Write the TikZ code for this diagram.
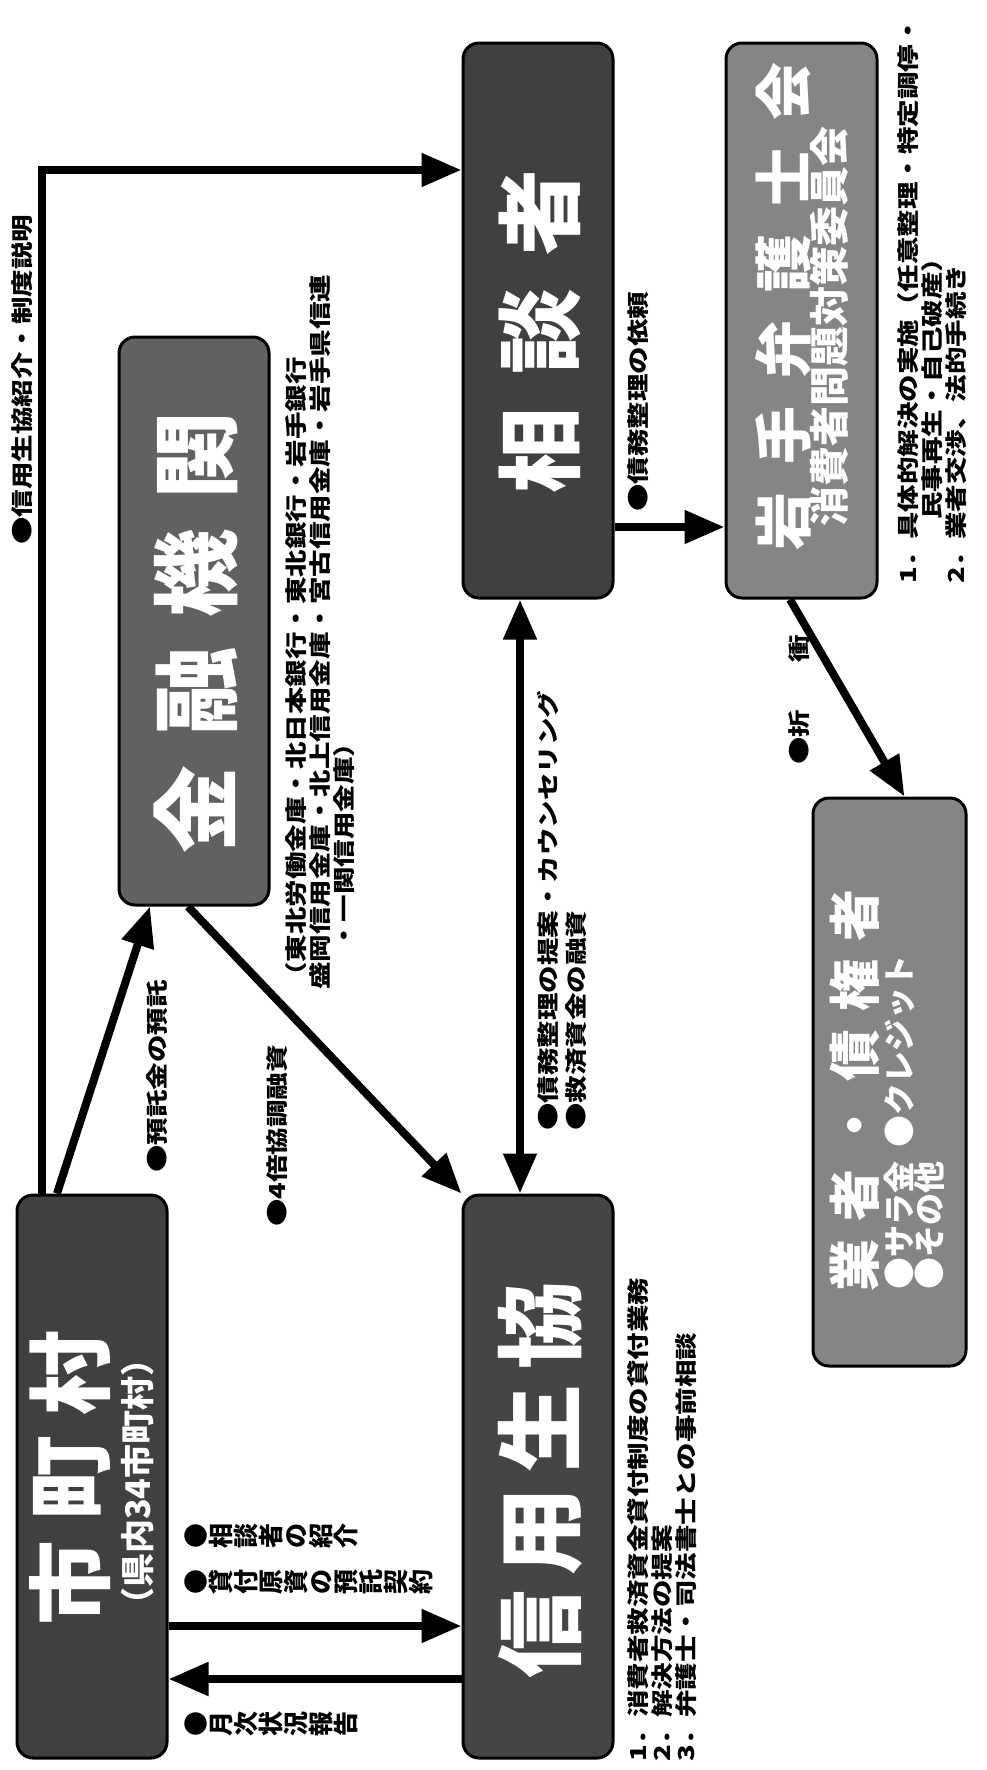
\documentclass[tikz,border=0pt]{standalone}
\usepackage{fontspec}
\usepackage{graphicx}
\setmainfont{Noto Sans CJK JP}
\usetikzlibrary{arrows.meta}
\newcommand{\lblfont}{\fontsize{27.5}{27.5}\selectfont\bfseries}
\newcommand{\sq}[1]{\scalebox{1}[0.8]{#1}}
\tikzset{
  box/.style={draw=black, line width=3pt, rounded corners=16pt, inner sep=0pt},
  ttl/.style={rotate=90, inner sep=0pt, text=white, font=\fontsize{#1}{#1}\selectfont\bfseries},
  lbl/.style={rotate=90, anchor=west, inner sep=0pt, font=\lblfont},
  rowlbl/.style={rotate=90, anchor=north, inner sep=0pt, align=center, font=\fontsize{25}{25}\selectfont\bfseries},
  arr/.style={line width=8pt, -{Triangle[length=40pt,width=32pt]}},
  arrb/.style={line width=8pt, {Triangle[length=40pt,width=32pt]}-{Triangle[length=40pt,width=32pt]}},
}
\begin{document}
\begin{tikzpicture}[x=1pt, y=-1pt]
\fill[white] (0,0) rectangle (987,1770);
\useasboundingbox (0,0) rectangle (987,1770);

% boxes
\node[box, fill=black!75, minimum width=150pt, minimum height=563pt] (sc) at (92,1476.5) {};
\node[box, fill=black!73, minimum width=150pt, minimum height=563pt] (sy) at (538,1476.5) {};
\node[box, fill=black!62, minimum width=150pt, minimum height=568pt] (kk) at (194,621) {};
\node[box, fill=black!75, minimum width=150pt, minimum height=555pt] (sd) at (538,320.5) {};
\node[box, fill=black!48, minimum width=151pt, minimum height=555pt] (bg) at (801.5,320.5) {};
\node[box, fill=black!48, minimum width=153pt, minimum height=568pt] (gs) at (889.5,1082) {};

% box titles
\node[ttl=85] (tsc) at (70,1478) {市\hspace{20pt}町\hspace{20pt}村};
\node[ttl=34] (tsc2) at (138,1482) {（県内34市町村）};
\node[ttl=88] (tsy) at (540,1480) {信\hspace{15pt}用\hspace{15pt}生\hspace{15pt}協};
\node[ttl=88] (tkk) at (196,632) {金\hspace{30pt}融\hspace{30pt}機\hspace{30pt}関};
\node[ttl=86] (tsd) at (540,331) {相\hspace{33pt}談\hspace{33pt}者};
\node[ttl=58] (tbg) at (783,306) {岩\hspace{28pt}手\hspace{28pt}弁\hspace{28pt}護\hspace{28pt}士\hspace{28pt}会};
\node[ttl=40] (tbg2) at (829,326) {消費者問題対策委員会};
\node[ttl=52] (tgs) at (855,1090) {業\hspace{18pt}者\hspace{18pt}・\hspace{18pt}債\hspace{18pt}権\hspace{18pt}者};
\node[rotate=90, anchor=west, inner sep=0pt, text=white, font=\fontsize{32}{32}\selectfont\bfseries] (tgs2) at (899,1290) {●サラ金\hspace{14pt}●クレジット};
\node[rotate=90, anchor=west, inner sep=0pt, text=white, font=\fontsize{32}{32}\selectfont\bfseries] (tgs3) at (929,1290) {●その他};

% connectors
\coordinate (hy) at (0,170);
\coordinate (hy2) at (0,527);
\coordinate (a1) at (0,1626);
\coordinate (a2) at (0,1679);
\draw[arr] ([xshift=-50pt]sc.north) |- (sd.west |- hy);
\draw[arr] ([xshift=-35pt]sc.north) -- ([xshift=-44pt]kk.south);
\draw[arr] ([xshift=-6pt]kk.south) -- (sy.north west);
\draw[arrb] ([xshift=-18pt]sd.south) -- ([xshift=-18pt]sy.north);
\draw[arr] (sd.east |- hy2) -- (bg.west |- hy2);
\draw[arr] ([xshift=-11.5pt]bg.south) -- ([xshift=15pt]gs.north);
\draw[arr] (sc.east |- a1) -- (sy.west |- a1);
\draw[arr] (sy.west |- a2) -- (sc.east |- a2);

% labels (columns)
\node[lbl] (l1) at (22,545) {\sq{●信用生協紹介・制度説明}};
\node[lbl] (l2) at (157,1173) {\sq{●預託金の預託}};
\node[lbl] (l3) at (277,1227) {\sq{●4倍協調融資}};
\node[lbl] (l4a) at (296,990) {\sq{（東北労働金庫・北日本銀行・東北銀行・岩手銀行}};
\node[lbl] (l4b) at (320,990) {\sq{盛岡信用金庫・北上信用金庫・宮古信用金庫・岩手県信連}};
\node[lbl] (l4c) at (344,950) {\sq{・一関信用金庫）}};
\node[lbl] (l5) at (548,1131) {\sq{●債務整理の提案・カウンセリング}};
\node[lbl] (l6) at (576,1131) {\sq{●救済資金の融資}};
\node[lbl] (l7) at (638,512) {\sq{●債務整理の依頼}};
\node[lbl] (l8) at (799,765) {\sq{●折\hspace{47pt}衝}};
\node[lbl] (l9a) at (638,1762) {\sq{1．消費者救済資金貸付制度の貸付業務}};
\node[lbl] (l9b) at (662,1762) {\sq{2．解決方法の提案}};
\node[lbl] (l9c) at (686,1762) {\sq{3．弁護士・司法書士との事前相談}};
\node[lbl] (l10a) at (908,584) {\sq{1．具体的解決の実施（任意整理・特定調停・}};
\node[lbl] (l10b) at (932,520) {\sq{民事再生・自己破産）}};
\node[lbl] (l10c) at (956,584) {\sq{2．業者交渉、法的手続き}};

% labels (rows)
\node[rowlbl] (r1) at (185,1536) {●\\相\\談\\者\\の\\紹\\介};
\node[rowlbl] (r2) at (185,1582) {●\\貸\\付\\原\\資\\の\\預\\託\\契\\約};
\node[rowlbl] (r3) at (185,1724) {●\\月\\次\\状\\況\\報\\告};
\end{tikzpicture}
\end{document}
